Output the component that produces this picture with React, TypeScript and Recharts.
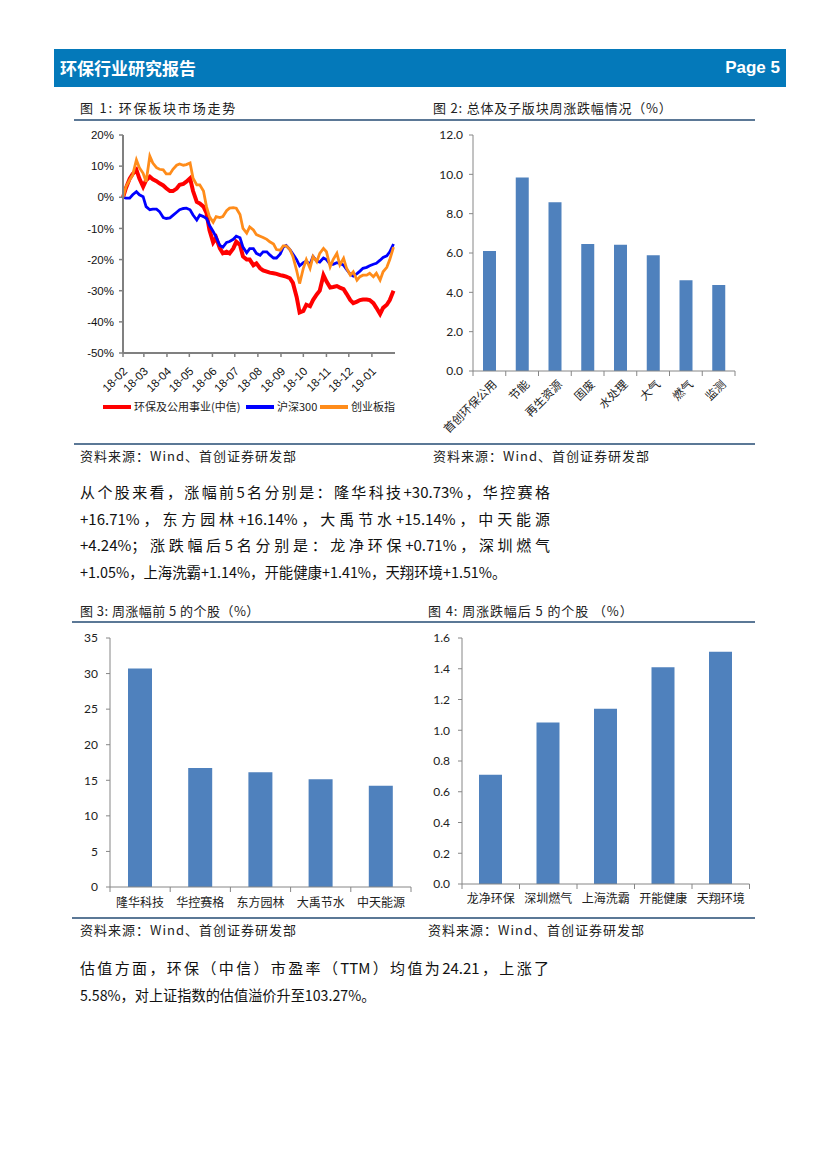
import React from 'react';
import { LineChart, Line, BarChart, Bar, XAxis, YAxis } from 'recharts';

// 图1: 环保板块市场走势 (cumulative %)
const dates = [
  '2018-02-01', '2018-02-05', '2018-02-10', '2018-02-14', '2018-02-19', '2018-02-23', '2018-02-28',
  '2018-03-04', '2018-03-09', '2018-03-13', '2018-03-18', '2018-03-22', '2018-03-27', '2018-03-31',
  '2018-04-05', '2018-04-09', '2018-04-14', '2018-04-18', '2018-04-23', '2018-04-27',
  '2018-05-02', '2018-05-06', '2018-05-11', '2018-05-15', '2018-05-20', '2018-05-24', '2018-05-28',
  '2018-06-02', '2018-06-06', '2018-06-11', '2018-06-15', '2018-06-20', '2018-06-24', '2018-06-29',
  '2018-07-03', '2018-07-08', '2018-07-12', '2018-07-17', '2018-07-21', '2018-07-26', '2018-07-30',
  '2018-08-04', '2018-08-08', '2018-08-13', '2018-08-17', '2018-08-22', '2018-08-26', '2018-08-31',
  '2018-09-04', '2018-09-08', '2018-09-13', '2018-09-17', '2018-09-22', '2018-09-26',
  '2018-10-01', '2018-10-05', '2018-10-10', '2018-10-14', '2018-10-19', '2018-10-23', '2018-10-28',
  '2018-11-01', '2018-11-06', '2018-11-10', '2018-11-15', '2018-11-19', '2018-11-24', '2018-11-28',
  '2018-12-03', '2018-12-07', '2018-12-12', '2018-12-16', '2018-12-20', '2018-12-25', '2018-12-29',
  '2019-01-03', '2019-01-07', '2019-01-12', '2019-01-16', '2019-01-21', '2019-01-25', '2019-01-30',
];
const envSeries = [
  0, 3, 6, 7.5, 8.8, 6, 3.4, 5.5, 6.6, 5.8,
  5.2, 4.5, 3.8, 2.9, 2.0, 2.0, 2.8, 4, 4.3, 5,
  6.1, 2, -1.5, -2, -3, -5, -10.5, -14.5, -13, -16.4,
  -18, -17.5, -18, -16.4, -14.3, -15.3, -19, -20, -20, -21.8,
  -21.2, -22.8, -23.5, -23.9, -24.2, -24.4, -24.6, -25, -25.2, -25.5,
  -26, -27.5, -32, -37, -36.5, -34.5, -35, -33, -31.2, -30,
  -25, -27, -29, -28.8, -28.5, -29, -29.5, -31, -33, -34,
  -33.5, -33, -32.8, -32.8, -33, -34, -35.5, -37.5, -35.5, -34.5,
  -33, -30,
];
const hs300Series = [
  0, -0.3, -0.3, 0.8, 1.8, 0.8, 0.2, -3, -4, -3.8,
  -3.8, -4.6, -6.5, -6.8, -6.6, -5.8, -4.8, -4, -3.6, -3.5,
  -4, -5.7, -7.3, -5.7, -6.2, -6.8, -9, -11, -12.8, -15.5,
  -16, -14.5, -14.2, -13.5, -12.5, -13, -16, -17.8, -16.5, -16.5,
  -18, -18.6, -17.5, -17.5, -18.5, -19.5, -19.5, -18.2, -16, -15.5,
  -16.8, -18.2, -20, -22, -21, -20.5, -21.5, -19, -20.5, -20.8,
  -19.5, -20, -21.5, -21.5, -21, -21.2, -21.8, -23.2, -24.7, -25.3,
  -24.5, -23.7, -22.8, -22.5, -22, -21.5, -21.2, -20.2, -19.3, -18.8,
  -17.5, -15,
];
const cybSeries = [
  0, 3.4, 5.6, 7.2, 12, 9.5, 7.7, 5, 13.2, 11,
  9.5, 9, 8.8, 7.5, 7.5, 9, 10.3, 10.7, 10.3, 10.5,
  11, 6.1, 4, 4, 2, -3, -6.2, -8, -6.2, -6.5,
  -6.2, -4.3, -3.5, -3.3, -3.5, -5.5, -10, -11.5, -9.5, -10.5,
  -12, -12.5, -12.9, -13.5, -14.3, -15, -16.8, -17, -15.6, -15.6,
  -16.8, -19, -23.5, -27.7, -22.8, -20, -22.8, -19, -20.7, -18,
  -16.4, -17.5, -22.3, -20, -18, -21.7, -19.6, -22.8, -25, -23.9,
  -26.6, -25.5, -25, -25, -24.4, -25.5, -24.4, -26.6, -23.9, -22.5,
  -20, -16,
];
const monthTicks = [
  '2018-02-01', '2018-03-01', '2018-04-01', '2018-05-01', '2018-06-01', '2018-07-01',
  '2018-08-01', '2018-09-01', '2018-10-01', '2018-11-01', '2018-12-01', '2019-01-01',
];
const monthLabels = ['18-02', '18-03', '18-04', '18-05', '18-06', '18-07', '18-08', '18-09', '18-10', '18-11', '18-12', '19-01'];
const trendTicks = [20, 10, 0, -10, -20, -30, -40, -50];

// 图2: 总体及子版块周涨跌幅情况
const sectorNames = ['首创环保公用', '节能', '再生资源', '固废', '水处理', '大气', '燃气', '监测'];
const sectorChange = [6.1, 9.84, 8.58, 6.46, 6.42, 5.88, 4.61, 4.37];
const sectorTicks = [0, 2, 4, 6, 8, 10, 12];

// 图3 / 图4: 周涨跌幅前后5的个股
const topNames = ['隆华科技', '华控赛格', '东方园林', '大禹节水', '中天能源'];
const topChange = [30.73, 16.71, 16.14, 15.14, 14.24];
const topTicks = [0, 5, 10, 15, 20, 25, 30, 35];
const bottomNames = ['龙净环保', '深圳燃气', '上海洗霸', '开能健康', '天翔环境'];
const bottomChange = [0.71, 1.05, 1.14, 1.41, 1.51];
const bottomTicks = [0, 0.2, 0.4, 0.6, 0.8, 1.0, 1.2, 1.4, 1.6];

const dayOf = (s: string) => (Date.parse(s) - Date.parse('2018-02-01')) / 86400000;

const trendData = dates.map((d, i) => ({
  d: dayOf(d),
  env: envSeries[i],
  hs: hs300Series[i],
  cyb: cybSeries[i],
}));
const sectorData = sectorNames.map((name, i) => ({ name, value: sectorChange[i] }));
const topData = topNames.map((name, i) => ({ name, value: topChange[i] }));
const bottomData = bottomNames.map((name, i) => ({ name, value: bottomChange[i] }));

const CJK = '"Noto Sans CJK SC", "Noto Sans", sans-serif';
const ARIAL = '"Liberation Sans", Arial, sans-serif';
const CALIBRI = 'Lato, "Liberation Sans", sans-serif';
const BAR = '#4F81BD';
const AXIS = '#868686';

const Txt = ({ x, y, size = 13, children, style }: any) => (
  <div
    style={{
      position: 'absolute', left: x, top: y - size * 0.7, fontSize: size,
      lineHeight: `${size * 1.4}px`, whiteSpace: 'nowrap', color: '#222', fontFamily: CJK, ...style,
    }}
  >
    {children}
  </div>
);

const Rule = ({ x1, x2, y }: any) => (
  <div style={{ position: 'absolute', left: x1, top: y, width: x2 - x1, height: 1.5, background: '#5b7896' }} />
);

const monthTickDays = monthTicks.map(dayOf);

const DateTick = (p: any) => {
  const { x, y, payload } = p;
  const idx = monthTickDays.indexOf(payload.value);
  return (
    <g>
      <line x1={x} y1={y} x2={x} y2={y + 4} stroke="#808080" strokeWidth={1.5} />
      <text
        x={x + 5}
        y={y + 19}
        transform={`rotate(-45 ${x + 5} ${y + 19})`}
        textAnchor="end"
        fontSize={11.5}
        fontFamily={ARIAL}
        fill="#111"
      >
        {monthLabels[idx]}
      </text>
    </g>
  );
};

const RotTick = (p: any) => {
  const { x, y, payload, index, band, count } = p;
  return (
    <g>
      <line x1={x - band / 2} y1={y} x2={x - band / 2} y2={y + 5} stroke={AXIS} />
      {index === count - 1 && <line x1={x + band / 2} y1={y} x2={x + band / 2} y2={y + 5} stroke={AXIS} />}
      <text
        x={x + 8}
        y={y + 14}
        transform={`rotate(-45 ${x + 8} ${y + 14})`}
        textAnchor="end"
        fontSize={11.5}
        fontFamily={CJK}
        fill="#222"
      >
        {payload.value}
      </text>
    </g>
  );
};

const FlatTick = (p: any) => {
  const { x, y, payload, index, band, count, dy } = p;
  return (
    <g>
      <line x1={x - band / 2} y1={y} x2={x - band / 2} y2={y + 5} stroke={AXIS} />
      {index === count - 1 && <line x1={x + band / 2} y1={y} x2={x + band / 2} y2={y + 5} stroke={AXIS} />}
      <text x={x} y={y + dy} textAnchor="middle" fontSize={12} fontFamily={CJK} fill="#222">
        {payload.value}
      </text>
    </g>
  );
};

const LegendItem = ({ x, color, label }: any) => (
  <>
    <div style={{ position: 'absolute', left: x, top: 405, width: 28, height: 4, background: color }} />
    <Txt x={x + 31} y={407} size={11} style={{ color: '#222' }}>{label}</Txt>
  </>
);

const bodyLines = [
  '从个股来看，涨幅前5名分别是：隆华科技+30.73%，华控赛格',
  '+16.71%，东方园林+16.14%，大禹节水+15.14%，中天能源',
  '+4.24%；涨跌幅后5名分别是：龙净环保+0.71%，深圳燃气',
  '+1.05%，上海洗霸+1.14%，开能健康+1.41%，天翔环境+1.51%。',
];

const bodyStyle: React.CSSProperties = {
  position: 'absolute', left: 80, fontSize: 15, lineHeight: '22px', color: '#111',
  fontFamily: CJK, whiteSpace: 'nowrap',
};
const justified: React.CSSProperties = { textAlign: 'justify', textAlignLast: 'justify' };
const squeezed = (k: number): React.CSSProperties => ({ transform: `scaleX(${k})`, transformOrigin: 'left center' });

export default function App() {
  return (
    <div style={{ position: 'absolute', left: 0, top: 0, width: 827, height: 1169, background: '#fff', fontFamily: CJK }}>
      {/* header */}
      <div style={{ position: 'absolute', left: 54, top: 49, width: 732, height: 38, background: '#0479BA' }} />
      <Txt x={60} y={68} size={17} style={{ color: '#fff', fontWeight: 700 }}>环保行业研究报告</Txt>
      <div style={{ position: 'absolute', left: 680, width: 100, top: 56, fontSize: 17, lineHeight: '24px', textAlign: 'right', color: '#fff', fontWeight: 700, fontFamily: ARIAL }}>
        Page 5
      </div>

      {/* row 1 titles */}
      <Txt x={80} y={108} size={13} style={{ letterSpacing: 1.8 }}>图 1: 环保板块市场走势</Txt>
      <Txt x={433} y={108} size={13} style={{ letterSpacing: 0.8 }}>图 2: 总体及子版块周涨跌幅情况（%）</Txt>
      <Rule x1={74} x2={755} y={119} />

      <div style={{ position: 'absolute', left: 60, top: 120 }}>
        <LineChart width={350} height={300} data={trendData} margin={{ top: 15, right: 15, left: 0, bottom: 0 }}>
          <XAxis
            dataKey="d"
            type="number"
            domain={[0, 365]}
            ticks={monthTickDays}
            interval={0}
            height={67}
            tickSize={0}
            tickMargin={0}
            axisLine={{ stroke: '#808080', strokeWidth: 2 }}
            tickLine={false}
            tick={<DateTick />}
          />
          <YAxis
            domain={[-50, 20]}
            ticks={trendTicks}
            interval={0}
            width={63}
            tickSize={4}
            tickMargin={5}
            axisLine={{ stroke: '#808080', strokeWidth: 2 }}
            tickLine={{ stroke: '#808080', strokeWidth: 1.5 }}
            tickFormatter={(v: number) => `${v}%`}
            tick={{ fontSize: 11.5, fontFamily: ARIAL, fill: '#111' }}
          />
          <Line dataKey="env" stroke="#FF0000" strokeWidth={4} dot={false} isAnimationActive={false} />
          <Line dataKey="hs" stroke="#0000FF" strokeWidth={2.8} dot={false} isAnimationActive={false} />
          <Line dataKey="cyb" stroke="#FF8C1A" strokeWidth={2.8} dot={false} isAnimationActive={false} />
        </LineChart>
      </div>
      <LegendItem x={103} color="#FF0000" label="环保及公用事业(中信)" />
      <LegendItem x={246} color="#0000FF" label="沪深300" />
      <LegendItem x={320} color="#FF8C1A" label="创业板指" />

      <div style={{ position: 'absolute', left: 420, top: 120 }}>
        <BarChart width={340} height={320} data={sectorData} margin={{ top: 15, right: 25, left: 0, bottom: 0 }} barSize={13}>
          <XAxis
            dataKey="name"
            interval={0}
            height={69}
            tickSize={0}
            tickMargin={0}
            axisLine={{ stroke: AXIS }}
            tickLine={false}
            tick={(p: any) => <RotTick {...p} band={32.75} count={sectorNames.length} />}
          />
          <YAxis
            domain={[0, 12]}
            ticks={sectorTicks}
            interval={0}
            width={53}
            tickSize={4}
            tickMargin={6}
            axisLine={{ stroke: AXIS }}
            tickLine={{ stroke: AXIS }}
            tickFormatter={(v: number) => v.toFixed(1)}
            tick={{ fontSize: 12, fontFamily: CALIBRI, fill: '#222' }}
          />
          <Bar dataKey="value" fill={BAR} isAnimationActive={false} />
        </BarChart>
      </div>

      <Rule x1={74} x2={755} y={443} />
      <Txt x={80} y={456} size={13} style={{ letterSpacing: 1 }}>资料来源：Wind、首创证券研发部</Txt>
      <Txt x={433} y={456} size={13} style={{ letterSpacing: 1 }}>资料来源：Wind、首创证券研发部</Txt>

      {bodyLines.map((t, i) => (
        <div
          key={i}
          style={{
            ...bodyStyle, top: 481 + i * 26.5,
            ...(i === 3 ? squeezed(0.958) : { width: 470, ...justified }),
          }}
        >
          {t}
        </div>
      ))}

      {/* row 2 titles */}
      <Txt x={80} y={611} size={13} style={{ letterSpacing: 0.45 }}>图 3:  周涨幅前 5 的个股（%）</Txt>
      <Txt x={428} y={611} size={13} style={{ letterSpacing: 0.9 }}>图 4: 周涨跌幅后 5 的个股 （%）</Txt>
      <Rule x1={72} x2={755} y={621} />

      <div style={{ position: 'absolute', left: 60, top: 625 }}>
        <BarChart width={360} height={290} data={topData} margin={{ top: 13, right: 9, left: 0, bottom: 0 }} barSize={24}>
          <XAxis
            dataKey="name"
            interval={0}
            height={28}
            tickSize={0}
            tickMargin={0}
            axisLine={{ stroke: AXIS }}
            tickLine={false}
            tick={(p: any) => <FlatTick {...p} band={60.2} count={topNames.length} dy={20} />}
          />
          <YAxis
            domain={[0, 35]}
            ticks={topTicks}
            interval={0}
            width={50}
            tickSize={4}
            tickMargin={8}
            axisLine={{ stroke: AXIS }}
            tickLine={{ stroke: AXIS }}
            tick={{ fontSize: 12, fontFamily: CALIBRI, fill: '#222' }}
          />
          <Bar dataKey="value" fill={BAR} isAnimationActive={false} />
        </BarChart>
      </div>

      <div style={{ position: 'absolute', left: 420, top: 625 }}>
        <BarChart width={340} height={290} data={bottomData} margin={{ top: 13, right: 10.5, left: 0, bottom: 0 }} barSize={23}>
          <XAxis
            dataKey="name"
            interval={0}
            height={31}
            tickSize={0}
            tickMargin={0}
            axisLine={{ stroke: AXIS }}
            tickLine={false}
            tick={(p: any) => <FlatTick {...p} band={57.5} count={bottomNames.length} dy={19} />}
          />
          <YAxis
            domain={[0, 1.6]}
            ticks={bottomTicks}
            interval={0}
            width={42}
            tickSize={4}
            tickMargin={8}
            axisLine={{ stroke: AXIS }}
            tickLine={{ stroke: AXIS }}
            tickFormatter={(v: number) => v.toFixed(1)}
            tick={{ fontSize: 12, fontFamily: CALIBRI, fill: '#222' }}
          />
          <Bar dataKey="value" fill={BAR} isAnimationActive={false} />
        </BarChart>
      </div>

      <Rule x1={72} x2={755} y={917} />
      <Txt x={80} y={930} size={13} style={{ letterSpacing: 1 }}>资料来源：Wind、首创证券研发部</Txt>
      <Txt x={428} y={930} size={13} style={{ letterSpacing: 1 }}>资料来源：Wind、首创证券研发部</Txt>

      <div style={{ ...bodyStyle, top: 957, width: 469, ...justified }}>
        估值方面，环保（中信）市盈率（TTM）均值为24.21，上涨了
      </div>
      <div style={{ ...bodyStyle, top: 984, ...squeezed(0.945) }}>
        5.58%，对上证指数的估值溢价升至103.27%。
      </div>
    </div>
  );
}
